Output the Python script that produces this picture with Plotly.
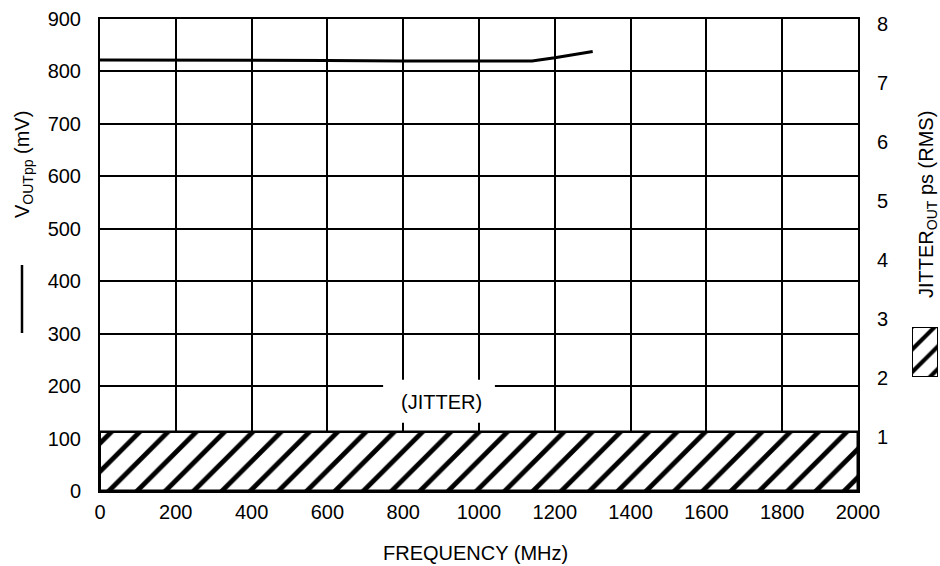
import plotly.graph_objects as go

# Data
freq_mhz = [0, 200, 400, 600, 800, 1000, 1140, 1200, 1300]
vout_mv = [822, 822, 821, 821, 820, 820, 820, 826, 838]
jitter_freq = [1000]
jitter_width = [2000]
jitter_ps = [1.0]

x_ticks = [0, 200, 400, 600, 800, 1000, 1200, 1400, 1600, 1800, 2000]
y_ticks = [0, 100, 200, 300, 400, 500, 600, 700, 800, 900]
y2_ticks = [1, 2, 3, 4, 5, 6, 7, 8]

W, H = 940, 566
L, R, T, B = 100, 858, 19, 491
FONT = "Liberation Sans, Arial, sans-serif"
FS = 20

def px(x):
    return x / W

def py(y):
    return (H - y) / H

fig = go.Figure()

fig.add_trace(go.Bar(
    x=jitter_freq, y=jitter_ps, width=jitter_width, xaxis="x", yaxis="y2",
    marker=dict(color="white", line=dict(color="black", width=2.5),
                pattern=dict(shape="/", fgcolor="black", bgcolor="white",
                             fgopacity=1, size=20, solidity=0.24)),
    showlegend=False, hoverinfo="skip",
))

fig.add_trace(go.Scatter(
    x=freq_mhz, y=vout_mv, mode="lines", xaxis="x", yaxis="y",
    line=dict(color="black", width=3), showlegend=False,
))

# legend swatch for jitter bars
fig.add_trace(go.Bar(
    x=[0.5], y=[1], width=[1], xaxis="x3", yaxis="y3",
    marker=dict(color="white", line=dict(color="black", width=2),
                pattern=dict(shape="/", fgcolor="black", bgcolor="white",
                             fgopacity=1, size=16, solidity=0.26)),
    showlegend=False, hoverinfo="skip",
))

fig.update_layout(
    width=W, height=H,
    margin=dict(l=0, r=0, t=0, b=0, autoexpand=False),
    paper_bgcolor="white", plot_bgcolor="white",
    font=dict(family=FONT, size=FS, color="black"),
    bargap=0,
    xaxis=dict(
        domain=[px(L), px(R)], range=[0, 2000], tickvals=x_ticks,
        showgrid=True, gridcolor="black", gridwidth=2,
        showline=True, linecolor="black", linewidth=2, mirror=True,
        ticks="", ticklabelstandoff=2, zeroline=False, anchor="y",
        automargin=False,
    ),
    yaxis=dict(
        domain=[py(B), py(T)], range=[0, 900], tickvals=y_ticks,
        showgrid=True, gridcolor="black", gridwidth=2,
        showline=True, linecolor="black", linewidth=2, mirror=True,
        ticks="", ticklabelstandoff=13, zeroline=False, anchor="x",
        automargin=False,
    ),
    yaxis2=dict(
        overlaying="y", side="right", anchor="x", range=[0, 8],
        tickvals=y2_ticks, showgrid=False, showline=False, zeroline=False,
        ticks="", ticklabelstandoff=18, ticklabelshift=5, automargin=False,
    ),
    xaxis3=dict(domain=[px(912), px(938)], range=[0, 1], visible=False,
                anchor="y3", fixedrange=True, automargin=False),
    yaxis3=dict(domain=[py(377), py(327)], range=[0, 1], visible=False,
                anchor="x3", fixedrange=True, automargin=False),
    shapes=[
        dict(type="rect", xref="x", yref="y", x0=747, x1=1042, y0=130, y1=212,
             fillcolor="white", line=dict(width=0), layer="between"),
        dict(type="line", xref="paper", yref="paper", x0=px(22), x1=px(22),
             y0=py(265), y1=py(333), line=dict(color="black", width=2.5)),
    ],
    annotations=[
        dict(text="(JITTER)", x=902, y=170, xref="x", yref="y",
             xanchor="center", yanchor="middle",
             showarrow=False, font=dict(size=FS)),
        dict(text="FREQUENCY (MHz)", x=px(475), y=py(553),
             xref="paper", yref="paper", xanchor="center", yanchor="middle",
             showarrow=False, font=dict(size=FS)),
        dict(text="V<sub>OUTpp</sub> (mV)", x=px(24), y=py(165),
             xref="paper", yref="paper", xanchor="center", yanchor="middle",
             showarrow=False, textangle=-90, font=dict(size=FS)),
        dict(text="JITTER<sub>OUT</sub> ps (RMS)", x=px(927), y=py(205),
             xref="paper", yref="paper", xanchor="center", yanchor="middle",
             showarrow=False, textangle=-90, font=dict(size=FS)),
    ],
)

fig.write_html(
    "out.html",
    config={"displayModeBar": False},
    post_script="document.body.style.margin='0';document.body.style.overflow='hidden';",
)
